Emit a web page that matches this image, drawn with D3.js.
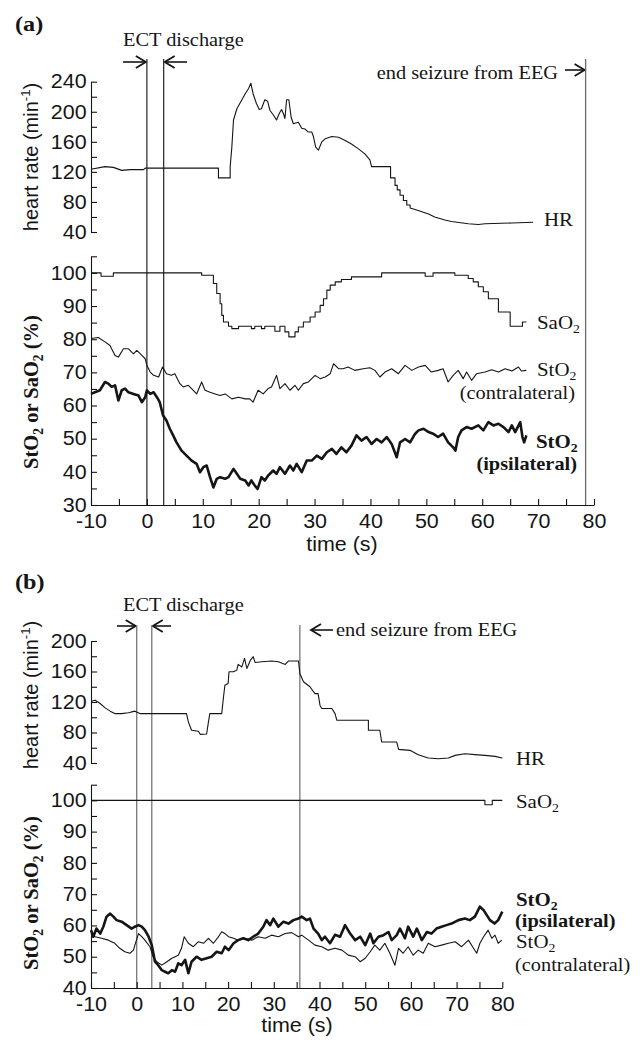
<!DOCTYPE html>
<html><head><meta charset="utf-8">
<script src="https://cdn.jsdelivr.net/npm/d3@7"></script>
<style>body{margin:0;background:#fff} svg{display:block}</style>
</head><body>
<svg id="c" width="644" height="1040"></svg>
<script>
// ---------------- DATA ----------------
const timeLabels = [-10, 0, 10, 20, 30, 40, 50, 60, 70, 80];
const hrLabelsA = [40, 80, 120, 160, 200, 240];
const satLabelsA = [30, 40, 50, 60, 70, 80, 90, 100];
const hrLabelsB = [40, 80, 120, 160, 200];
const satLabelsB = [40, 50, 60, 70, 80, 90, 100];

const ectA = [0, 3];
const endSeizureA = 78.5;
const ectB = [0, 3.3];
const endSeizureB = 35.7;

// panel (a): [time s, value]
const hrA = [[-10,123.6],[-7.5,127],[-6,126],[-4.5,122],[-3,123],[-0.6,123],[-0.3,125],[12.8,125],[12.8,112],[14.9,112],[14.9,127],[15.2,153],[15.5,189],[16.1,204],[17.0,216],[17.6,224],[18.2,231],[18.6,238],[19.0,224],[19.6,211],[20.1,203],[20.5,204],[21.1,216],[21.6,214],[22.0,202],[22.6,196],[23.2,189],[23.7,198],[24.1,203],[24.5,196],[24.7,191],[25.0,216],[25.4,216],[25.8,193],[26.2,184],[27.1,186],[27.7,178],[28.3,177],[28.9,173],[29.5,173],[29.8,167],[30.2,153],[30.7,149],[31.3,160],[31.9,164],[33.1,167],[34.3,166],[35.4,162],[36.6,157],[37.8,151],[39.0,144],[39.9,136],[40.2,127],[43.6,127],[43.6,112],[44.4,112],[44.4,102],[44.8,102],[44.8,96],[45.3,96],[45.3,89],[45.9,89],[45.9,82],[46.5,82],[46.5,76],[47.1,76],[47.1,72],[48.0,70],[49.2,67],[50.4,64],[51.5,60],[53.3,56],[54.5,54],[57.5,51],[59.3,50],[60.5,51],[65.3,52],[69.1,53]];

const saO2A = [[-10,100],[-8.2,99.0],[-6.0,100],[9.8,99.3],[11.9,96.8],[12.5,93.8],[13.1,90.7],[13.4,87.2],[13.7,85.2],[14.6,83.9],[15.2,83.2],[16.4,83.9],[18.7,83.2],[19.3,83.9],[20.5,83.2],[21.1,83.9],[22.9,82.4],[23.8,83.9],[24.7,82.2],[25.4,80.7],[26.5,82.2],[27.1,83.7],[28.0,85.2],[29.2,86.7],[30.1,88.2],[31.0,90.2],[31.6,92.2],[32.2,94.8],[32.8,96.3],[33.7,97.3],[34.8,98.0],[36.6,98.8],[42.0,100],[49.8,99.0],[51.2,100],[55.1,99.3],[57.5,98.3],[58.4,97.3],[59.3,95.8],[60.2,94.3],[61.1,92.2],[62.9,88.2],[65.0,83.9],[67.2,85.2],[67.9,85.2]];

const stO2ContraA = [[-10,80.2],[-8.7,80.5],[-7.5,79.2],[-6.6,78.1],[-5.7,75.1],[-5.1,74.6],[-4.2,77.1],[-3.3,77.1],[-2.4,75.6],[-1.8,76.6],[-0.9,75.1],[-0.3,74.1],[0.0,72.1],[0.6,70.1],[1.2,69.1],[2.1,68.6],[2.8,71.6],[3.5,69.6],[4.4,69.1],[5.0,69.6],[5.9,66.6],[6.5,65.6],[7.4,66.1],[8.0,65.1],[8.9,63.5],[9.8,67.1],[10.4,64.6],[11.3,64.0],[12.2,63.5],[13.1,63.0],[14.0,63.5],[15.2,62.0],[16.4,62.5],[17.6,62.0],[18.4,62.0],[19.0,61.0],[19.9,64.6],[20.8,63.5],[21.7,65.1],[22.3,65.6],[23.2,69.1],[23.8,65.1],[24.7,66.6],[25.6,64.6],[26.5,66.1],[27.1,64.6],[28.0,66.6],[28.9,67.1],[30.1,69.1],[31.0,68.1],[31.9,68.6],[32.8,69.6],[33.4,72.6],[34.3,71.1],[35.1,71.1],[36.0,71.6],[37.2,70.6],[38.7,71.1],[39.9,71.4],[40.8,70.6],[41.7,68.6],[42.6,70.1],[43.8,71.1],[45.0,69.6],[46.2,72.1],[47.4,70.6],[48.6,71.6],[49.8,72.1],[50.9,70.1],[52.1,70.6],[53.0,71.1],[53.9,67.1],[54.8,69.1],[55.7,70.6],[56.6,68.1],[57.2,70.1],[58.1,67.6],[59.0,69.6],[60.5,70.1],[61.7,70.8],[62.9,70.1],[64.1,71.1],[65.3,70.4],[66.5,71.6],[67.0,70.4],[67.9,70.6]];

const stO2IpsiA = [[-10,63.5],[-9.3,64.0],[-8.4,64.6],[-7.5,67.1],[-6.9,66.6],[-6.3,65.6],[-5.7,66.1],[-5.1,61.5],[-4.5,64.6],[-3.9,65.1],[-3.3,64.0],[-2.4,63.5],[-1.5,63.0],[-0.9,61.0],[-0.3,62.5],[0.0,64.6],[0.6,63.5],[1.2,64.0],[1.8,62.5],[2.3,61.0],[2.9,57.0],[3.5,55.5],[4.1,53.0],[4.7,51.0],[5.3,48.9],[6.2,46.4],[7.1,44.9],[8.0,43.4],[8.9,42.4],[9.5,39.9],[10.1,41.4],[10.7,41.9],[11.3,38.4],[11.9,35.3],[12.5,37.9],[13.1,38.4],[14.0,37.9],[14.6,38.4],[15.5,40.9],[16.1,39.4],[16.7,37.9],[17.6,37.4],[18.2,35.9],[18.7,37.4],[19.3,35.9],[19.8,34.8],[20.5,38.4],[21.1,37.4],[21.7,38.9],[22.6,40.4],[23.2,39.4],[23.8,41.4],[24.7,39.4],[25.6,41.9],[26.2,40.4],[26.8,42.4],[27.7,39.9],[28.6,43.4],[29.5,43.4],[30.4,44.9],[31.3,43.9],[32.2,45.9],[33.1,46.9],[33.9,45.4],[34.8,47.4],[35.7,45.9],[36.6,47.9],[37.5,51.0],[38.4,49.4],[39.3,50.5],[40.2,48.4],[41.1,49.9],[42.0,48.9],[42.9,50.5],[43.8,48.4],[44.7,44.4],[45.3,48.9],[46.2,49.9],[47.1,48.9],[48.0,51.5],[48.6,52.5],[49.5,53.0],[50.4,52.0],[51.2,51.5],[52.1,50.5],[53.0,51.5],[53.9,48.9],[54.8,47.4],[55.2,46.4],[55.7,50.5],[56.3,52.5],[57.2,53.5],[58.1,53.0],[59.3,54.0],[60.2,52.5],[61.1,55.0],[62.0,54.0],[62.9,54.5],[63.8,53.5],[64.7,52.0],[65.3,54.0],[65.9,52.0],[66.8,55.0],[67.2,50.5],[67.5,48.9],[67.8,50.5],[67.9,51.0]];

// panel (b)
const hrB = [[-10,121],[-9.1,122.4],[-8.0,118],[-6.9,112.3],[-5.8,108],[-4.8,104.8],[-3.3,104.8],[-1.8,106],[-0.4,108],[0.7,104.8],[10.9,104.8],[11.3,94],[12.0,83],[13.5,81.6],[13.9,77.6],[15.3,78],[15.7,94],[16.0,104.8],[18.6,104.8],[19.0,126.8],[19.3,142],[20.0,144.3],[20.2,159.6],[21.2,159.6],[21.9,161.8],[22.2,169.3],[23.0,166],[23.6,177.2],[24.1,164],[24.4,168],[24.9,175],[25.5,179.4],[25.9,171.9],[27.4,172.8],[29.5,173.7],[31.0,172.8],[32.5,169.3],[33.2,173.7],[35.4,173.7],[35.7,157.5],[36.5,146.5],[37.9,140],[39.0,131],[39.7,131],[40.1,115.8],[40.5,111.4],[42.7,111.4],[43.4,104.8],[43.8,96],[50.7,96],[50.7,83],[53.2,83],[53.6,67.5],[56.9,67.5],[57.3,57.9],[59.8,56.6],[61.6,50.9],[63.8,46.5],[66.0,45.6],[68.2,46.5],[69.7,50],[71.8,52.2],[74.0,51],[76.2,50],[78.4,48.7],[80.0,46.5]];

const saO2B = [[-10,100],[76.2,98.6],[77.8,100],[80,100]];

const stO2ContraB = [[-10,57.4],[-9.1,56.4],[-7.7,55.9],[-6.2,55.3],[-4.8,54.3],[-3.7,52.7],[-2.6,51.6],[-1.5,51.1],[-0.7,52.1],[-0.4,53.7],[0.4,57.4],[1.1,56.4],[1.8,55.3],[2.9,53.2],[3.6,50.0],[4.4,48.4],[5.5,47.3],[6.6,48.4],[7.7,49.5],[9.1,50.5],[9.8,52.7],[10.4,56.4],[11.3,54.3],[12.4,53.2],[13.5,54.8],[14.6,54.3],[15.7,55.9],[16.8,54.3],[17.9,56.4],[18.6,58.0],[19.3,57.4],[20.1,56.4],[21.2,55.9],[22.2,55.3],[23.7,55.9],[25.2,55.3],[26.6,56.4],[28.1,55.9],[29.5,56.9],[31.0,56.4],[32.5,57.4],[33.9,57.7],[35.4,56.4],[36.1,56.9],[37.6,55.3],[39.0,53.7],[40.5,53.2],[41.9,52.1],[43.4,52.7],[44.9,52.1],[46.3,50.5],[47.8,50.0],[48.9,48.4],[50.0,49.5],[51.1,51.6],[52.1,53.7],[53.2,52.1],[54.3,54.3],[55.4,51.1],[56.5,47.3],[57.3,52.7],[58.3,51.1],[59.4,53.2],[60.5,50.5],[61.6,52.1],[62.7,51.1],[63.8,54.3],[65.3,53.2],[66.7,53.7],[68.2,54.3],[69.7,54.8],[71.1,53.2],[72.6,55.3],[73.7,52.7],[74.4,51.1],[75.1,54.3],[75.9,56.4],[76.9,58.5],[77.7,55.9],[78.4,56.9],[79.1,54.3],[79.9,55.3]];

const stO2IpsiB = [[-10,58.5],[-9.5,56.4],[-8.8,59.0],[-8.0,57.4],[-7.3,59.6],[-6.6,62.8],[-5.8,63.8],[-5.1,62.8],[-4.4,61.7],[-3.3,61.2],[-2.2,60.1],[-1.1,59.0],[-0.4,59.6],[0.4,60.1],[1.1,59.6],[1.8,58.5],[2.6,56.4],[3.3,53.7],[4.0,48.4],[4.7,47.3],[5.5,45.7],[6.2,45.2],[6.9,44.7],[7.7,45.7],[8.4,45.2],[9.1,47.9],[9.8,47.3],[10.6,49.0],[11.3,44.7],[12.0,48.4],[13.1,50.0],[14.2,49.0],[15.3,49.5],[16.4,50.0],[17.5,51.6],[18.6,51.1],[19.3,53.2],[20.1,52.1],[21.2,54.3],[22.2,55.3],[23.3,55.9],[24.4,55.3],[25.5,56.4],[26.6,57.4],[27.7,59.6],[28.4,61.7],[29.2,60.1],[29.9,62.2],[31.0,59.6],[32.1,61.2],[33.2,60.6],[34.3,61.7],[35.4,62.2],[36.1,62.8],[37.2,61.7],[37.9,62.2],[38.7,59.0],[39.7,57.4],[40.5,55.3],[41.2,56.4],[42.3,54.3],[43.4,57.0],[44.5,56.4],[45.6,60.1],[46.7,57.4],[47.8,55.3],[48.9,56.4],[50.0,53.7],[51.1,57.4],[51.8,54.3],[52.9,56.4],[54.0,56.9],[55.1,57.9],[55.8,55.3],[56.9,56.9],[57.6,59.0],[58.7,55.9],[59.4,59.6],[60.5,56.4],[61.3,59.0],[62.4,55.3],[63.5,57.9],[64.5,57.4],[65.6,59.0],[66.7,59.6],[67.8,60.1],[68.9,60.6],[70.4,61.7],[71.8,62.2],[72.9,61.7],[74.0,62.8],[75.1,66.0],[75.9,64.9],[76.6,63.3],[77.3,61.7],[78.3,60.6],[79.1,61.7],[80.0,64.4]];

// ---------------- DRAWING ----------------
const svg = d3.select('#c');
const INK = '#151515';
const SERIF = "'Liberation Serif','Times New Roman',serif";
const SANS = "'Liberation Sans',Arial,Helvetica,sans-serif";
const SX = 1.1;

function txt(g, x, y, parts, o = {}) {
  const size = o.size || 18.5;
  const t = g.append('text')
    .attr('transform', `translate(${x},${y})` + (o.rot ? ' rotate(-90)' : ` scale(${o.sx ?? SX},1)`))
    .attr('font-family', o.family || SERIF)
    .attr('font-size', size)
    .attr('font-weight', o.bold ? 'bold' : 'normal')
    .attr('text-anchor', o.anchor || 'start')
    .attr('fill', INK);
  let shift = 0;
  parts.forEach(p => {
    const s = typeof p === 'string' ? {t: p} : p;
    const target = s.sub ? (o.subShift || 4) : s.sup ? -(o.supShift || 8) : 0;
    const ts = t.append('tspan').text(s.t).attr('dy', target - shift);
    if (s.sub || s.sup) ts.attr('font-size', size * 0.66);
    shift = target;
  });
  return t;
}

function arrow(g, x1, x2, y) {
  const dir = Math.sign(x2 - x1);
  g.append('line').attr('x1', x1).attr('x2', x2 - dir * 1).attr('y1', y).attr('y2', y)
    .attr('stroke', INK).attr('stroke-width', 1.6);
  g.append('path').attr('d', `M${x2 - dir * 10},${y - 6}L${x2},${y}L${x2 - dir * 10},${y + 6}`)
    .attr('fill', 'none').attr('stroke', INK).attr('stroke-width', 1.8);
}

function yAxis(g, scale, step, labels, x) {
  const [d0, d1] = scale.domain();
  const vals = d3.range(d0, d1 + 0.001, step);
  const ax = d3.axisLeft(scale).tickValues(vals).tickSizeInner(-6).tickSizeOuter(0)
    .tickFormat(d => labels.includes(d) ? d : '');
  const gg = g.append('g').attr('transform', `translate(${x},0)`).call(ax);
  gg.select('.domain').attr('stroke', INK).attr('stroke-width', 1.1);
  gg.selectAll('.tick line').attr('stroke', INK).attr('stroke-width', 1.1);
  gg.selectAll('.tick text').attr('font-family', SANS).attr('font-size', 19.5).attr('fill', INK)
    .attr('x', -4).attr('transform', `scale(${SX},1)`);
}

function xAxis(g, scale, y) {
  const vals = d3.range(-10, 80.001, 5);
  const ax = d3.axisBottom(scale).tickValues(vals).tickSizeInner(-6).tickSizeOuter(0)
    .tickFormat(d => timeLabels.includes(d) ? d : '');
  const gg = g.append('g').attr('transform', `translate(0,${y})`).call(ax);
  gg.select('.domain').attr('stroke', INK).attr('stroke-width', 1.1);
  gg.selectAll('.tick line').attr('stroke', INK).attr('stroke-width', 1.1);
  gg.selectAll('.tick text').attr('font-family', SANS).attr('font-size', 19.5).attr('fill', INK)
    .attr('y', 9).attr('x', 0).attr('transform', `scale(${SX},1)`);
}

function series(g, x, y, data, w, curve) {
  g.append('path').datum(data)
    .attr('d', d3.line().x(d => x(d[0])).y(d => y(d[1])).curve(curve || d3.curveLinear))
    .attr('fill', 'none').attr('stroke', INK).attr('stroke-width', w)
    .attr('stroke-linejoin', 'round');
}

function vline(g, xpos, y1, y2, color) {
  g.append('line').attr('x1', xpos).attr('x2', xpos).attr('y1', y1).attr('y2', y2)
    .attr('stroke', color).attr('stroke-width', 1.3);
}

function hrLabel(g, cx, cy) {
  txt(g, cx, cy, ['heart rate (min', {t: '-1', sup: true}, ')'],
    {rot: true, family: SANS, size: 20, anchor: 'middle', supShift: 8});
}
function satLabel(g, cx, cy) {
  txt(g, cx, cy, ['StO', {t: '2', sub: true}, ' or SaO', {t: '2', sub: true}, '  (%)'],
    {rot: true, family: SERIF, size: 20.5, bold: true, anchor: 'middle', subShift: 5});
}

// ===== Panel (a) =====
{
  const g = svg.append('g');
  const x = d3.scaleLinear().domain([-10, 80]).range([91, 594]);
  const yH = d3.scaleLinear().domain([40, 240]).range([232, 81.7]);
  const yS = d3.scaleLinear().domain([30, 105]).range([505, 256.3]);

  txt(g, 15, 31, ['(a)'], {bold: true, size: 22});
  txt(g, 123, 45.5, ['ECT discharge'], {size: 18.5});
  arrow(g, 123, x(ectA[0]) - 1, 62);
  arrow(g, 187, x(ectA[1]) + 1, 62);
  txt(g, 558, 79, ['end seizure from EEG'], {size: 18.5, anchor: 'end'});
  arrow(g, 565, x(endSeizureA) - 1, 70);

  ectA.forEach(t => vline(g, x(t), 59, 505, '#333'));
  vline(g, x(endSeizureA), 59, 505, '#6a6a6a');

  yAxis(g, yH, 20, hrLabelsA, 91);
  yAxis(g, yS, 5, satLabelsA, 91);
  xAxis(g, x, 505);

  series(g, x, yH, hrA, 1.1);
  series(g, x, yS, saO2A, 1.1, d3.curveStepAfter);
  series(g, x, yS, stO2ContraA, 1.1);
  series(g, x, yS, stO2IpsiA, 2.6);

  txt(g, 544, 226, ['HR'], {size: 19});
  txt(g, 537, 329, ['SaO', {t: '2', sub: true}], {size: 19});
  txt(g, 537, 376, ['StO', {t: '2', sub: true}], {size: 19});
  txt(g, 575, 399, ['(contralateral)'], {size: 18.5, anchor: 'end'});
  txt(g, 536, 448, ['StO', {t: '2', sub: true}], {size: 19, bold: true});
  txt(g, 577, 470, ['(ipsilateral)'], {size: 18.5, bold: true, anchor: 'end'});

  hrLabel(g, 38, 157);
  satLabel(g, 38, 392);
  txt(g, 342, 551, ['time (s)'], {family: SANS, size: 19.5, anchor: 'middle'});
}

// ===== Panel (b) =====
{
  const g = svg.append('g');
  const x = d3.scaleLinear().domain([-10, 80]).range([91, 502.3]);
  const yH = d3.scaleLinear().domain([40, 200]).range([763, 641]);
  const yS = d3.scaleLinear().domain([40, 105]).range([988, 784.7]);

  txt(g, 15, 589, ['(b)'], {bold: true, size: 22});
  txt(g, 123, 611, ['ECT discharge'], {size: 18.5});
  arrow(g, 117, x(ectB[0]) - 1, 626);
  arrow(g, 171, x(ectB[1]) + 1, 626);
  arrow(g, 333, 311, 630);
  txt(g, 336, 636, ['end seizure from EEG'], {size: 18.5});

  ectB.forEach(t => vline(g, x(t), 625, 988, '#777'));
  vline(g, x(endSeizureB), 625, 988, '#777');

  yAxis(g, yH, 20, hrLabelsB, 91);
  yAxis(g, yS, 5, satLabelsB, 91);
  xAxis(g, x, 988);

  series(g, x, yH, hrB, 1.1);
  series(g, x, yS, saO2B, 1.1, d3.curveStepAfter);
  series(g, x, yS, stO2ContraB, 1.1);
  series(g, x, yS, stO2IpsiB, 2.6);

  txt(g, 516, 765, ['HR'], {size: 19});
  txt(g, 516, 808, ['SaO', {t: '2', sub: true}], {size: 19});
  txt(g, 516, 906, ['StO', {t: '2', sub: true}], {size: 19, bold: true});
  txt(g, 515, 927, ['(ipsilateral)'], {size: 18.5, bold: true});
  txt(g, 516, 948, ['StO', {t: '2', sub: true}], {size: 19});
  txt(g, 515, 971, ['(contralateral)'], {size: 18.5});

  hrLabel(g, 38, 695);
  satLabel(g, 38, 893);
  txt(g, 297, 1032, ['time (s)'], {family: SANS, size: 19.5, anchor: 'middle'});
}
</script>
</body></html>
